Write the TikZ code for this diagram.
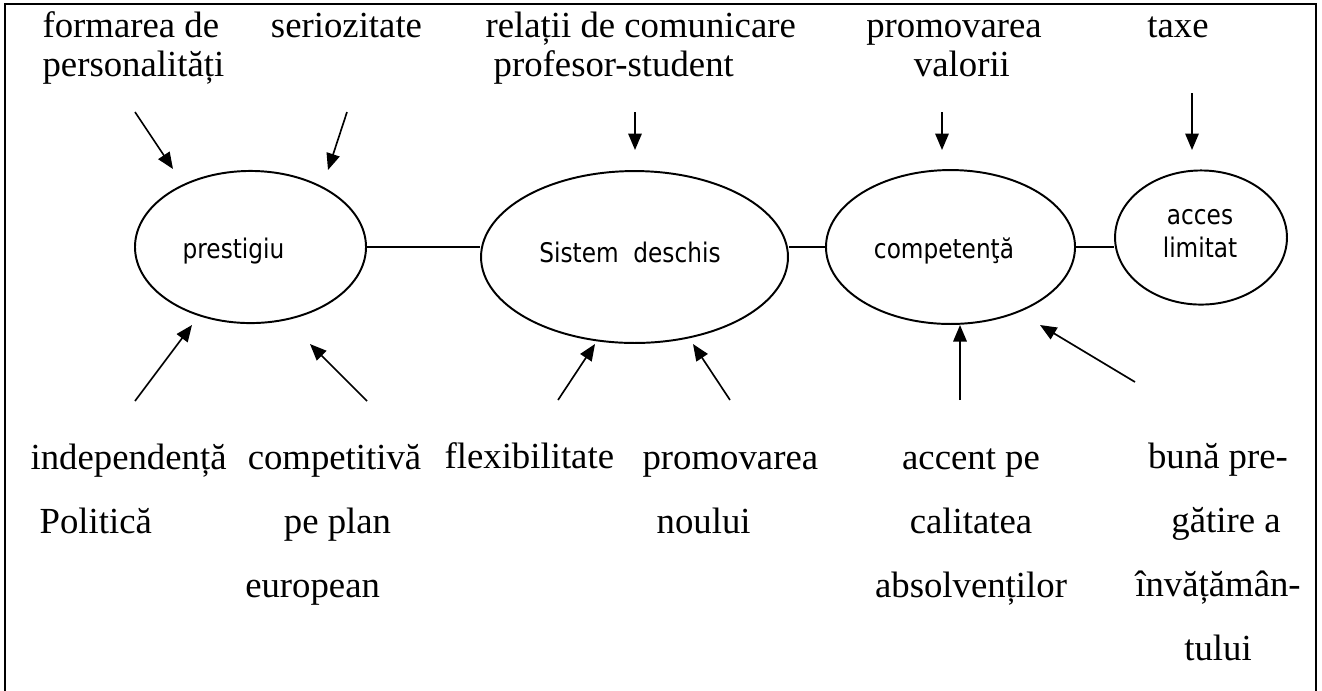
\documentclass[tikz,border=0pt]{standalone}
\usepackage{fontspec}
\setmainfont{Liberation Serif}
\newfontfamily\ellfont[FakeStretch=0.86]{DejaVu Sans}
\usetikzlibrary{arrows.meta,shapes.geometric}

\tikzset{
	ell/.style={draw, ellipse, line width=0.65pt, inner sep=0pt},
	lbl/.style={font=\ellfont\fontsize{9}{10.7}\selectfont, inner sep=0pt, anchor=base},
	topt/.style={font=\fontsize{12.25}{13}\selectfont, inner sep=0pt},
	bott/.style={font=\fontsize{12.25}{21.3}\selectfont, inner sep=0pt},
	arr/.style={-{Triangle[length=5.5pt,width=4.5pt]}, line width=0.55pt},
	link/.style={line width=0.6pt}
}

\begin{document}
\begin{tikzpicture}[x=0.3333pt,y=-0.3333pt]
	\useasboundingbox (0,0) rectangle (1322,690);
	% frame
	\draw[line width=0.8pt] (5,692) -- (5,4) -- (1316,4) -- (1316,692);

	% ellipses
	\node[ell, minimum width=77pt, minimum height=50.7pt] (prest) at (250.5,247) {};
	\node[ell, minimum width=102.3pt, minimum height=57.3pt] (sist) at (634.5,257) {};
	\node[ell, minimum width=83pt, minimum height=51.3pt] (comp) at (950.5,247) {};
	\node[ell, minimum width=57.3pt, minimum height=44.7pt] (acc) at (1201,237.5) {};

	\node[lbl] (prestlbl) at (233.5,258) {prestigiu};
	\node[lbl] (sistlbl) at (630,262) {Sistem\ \ deschis};
	\node[lbl] (complbl) at (944,258) {competenţă};
	\node[lbl, align=center] (acclbl) at (1200,257) {acces\\limitat};

	\draw[link] (prest.east) -- (prest.east -| sist.west);
	\draw[link] (comp.west) -- (comp.west -| sist.east);
	\draw[link] (comp.east) -- (comp.east -| acc.west);

	% texts above (base = last line)
	\node[topt, anchor=base west, align=left] (form) at (42,76) {formarea de\\personalități};
	\node[topt, anchor=base] (serio) at (346.5,37) {seriozitate};
	\node[topt, anchor=base west, align=left] (relat) at (485,76) {relații de comunicare\\\hspace*{2.7pt}profesor-student};
	\node[topt, anchor=base, align=center] (promv) at (954,76) {promovarea\\\hspace*{5.3pt}valorii};
	\node[topt, anchor=base] (taxe) at (1178,37) {taxe};

	% texts below (base = last line)
	\node[bott, anchor=base west, align=left] (indep) at (30,533) {independență\\\hspace*{3pt}Politică};
	\node[bott, anchor=base, align=center] (compt) at (334.5,597) {competitivă\\\hspace*{2pt}pe plan\\european\hspace*{14.6pt}};
	\node[bott, anchor=base west] (flex) at (444,468) {flexibilitate};
	\node[bott, anchor=base west, align=left] (promn) at (642,533) {promovarea\\\hspace*{4.7pt}noului};
	\node[bott, anchor=base, align=center] (accent) at (971,597) {accent pe\\calitatea\\absolvenților};
	\node[bott, anchor=base, align=center] (buna) at (1218,660) {bună pre-\\\hspace*{5.3pt}gătire a\\învățămân-\\tului};

	% arrows
	\foreach \nm/\s/\e in {form/{135,112}/{173,169}, serio/{347,112}/{328,170},
		relat/{635,112}/{635,150}, promv/{942,112}/{942,150}, taxe/{1192,93}/{1192,150},
		indep/{135,401}/{192,325}, compt/{367,401}/{310,344}, flex/{558,400}/{595,344},
		promn/{730,400}/{693,344}, accent/{960,400}/{960,325}, buna/{1135,382}/{1040,325}}{
		\coordinate (\nm-s) at (\s);
		\coordinate (\nm-e) at (\e);
		\draw[arr] (\nm-s) -- (\nm-e);
	}
\end{tikzpicture}
\end{document}
